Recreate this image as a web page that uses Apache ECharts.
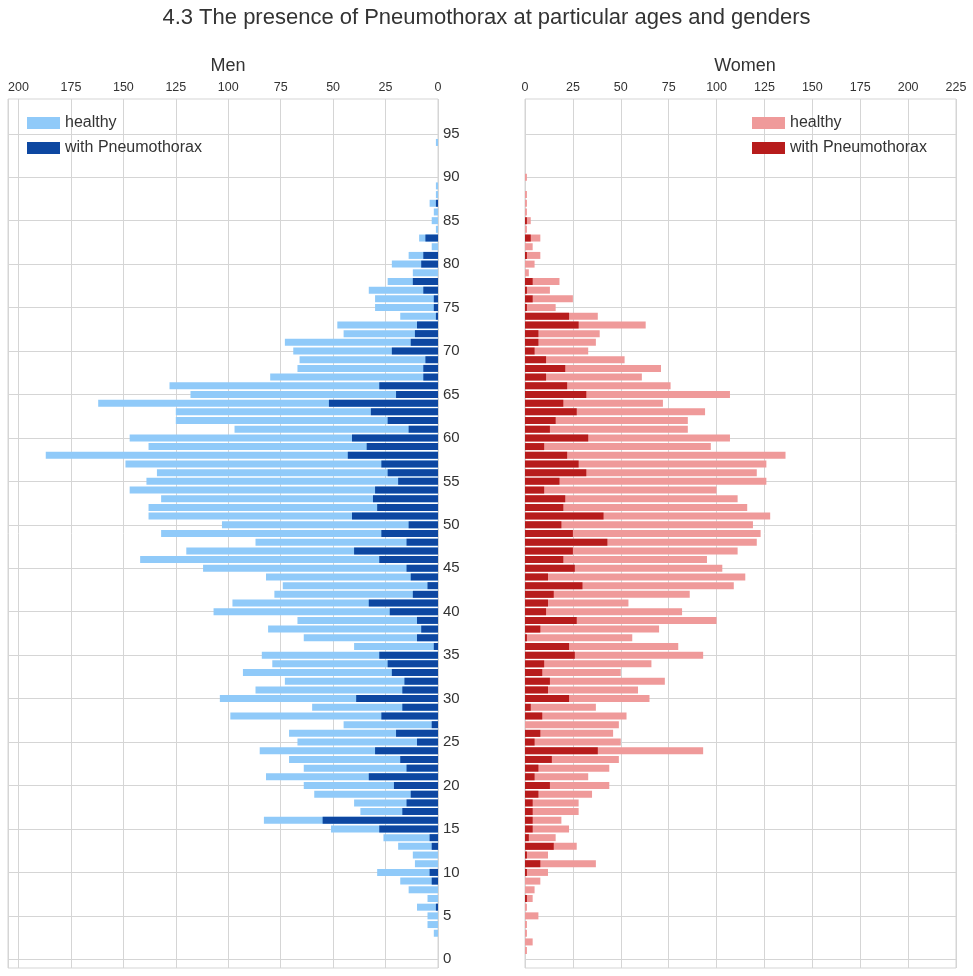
<!DOCTYPE html>
<html>
<head>
<meta charset="utf-8">
<script src="https://cdn.jsdelivr.net/npm/echarts@6/dist/echarts.min.js"></script>
<style>html,body{margin:0;padding:0;background:#fff}#chart{width:973px;height:976px}</style>
</head>
<body>
<div id="chart"></div>
<script>
// ages -1..99, -1 is just a spacer below zero
const ages = [];
for (let a = -1; a <= 99; a++) ages.push(String(a));

// values indexed by age, starting at age 0
const menHealthy = [0,0,0,2,5,5,10,5,14,18,29,11,12,19,26,51,83,37,40,59,64,82,64,71,85,67,71,45,99,60,104,87,73,93,79,84,40,64,81,67,107,98,78,74,82,112,142,120,87,132,103,138,138,132,147,139,134,149,187,138,147,97,125,125,162,118,128,80,67,66,69,73,45,48,18,30,30,33,24,12,22,14,3,9,1,3,2,4,1,1,0,0,0,0,1];
const menPneumo = [0,0,0,0,0,0,1,0,0,3,4,0,0,3,4,28,55,17,15,13,21,33,15,18,30,10,20,3,27,17,39,17,16,22,24,28,2,10,8,10,23,33,12,5,13,15,28,40,15,27,14,41,29,31,30,19,24,27,43,34,41,14,24,32,52,20,28,7,7,6,22,13,11,10,1,2,2,7,12,0,8,7,0,6,0,0,0,1];
const womenHealthy = [0,1,4,1,1,7,1,4,5,8,12,37,12,27,16,23,19,28,28,35,44,33,44,49,93,50,46,49,53,37,65,59,73,50,66,93,80,56,70,100,82,54,86,109,115,103,95,111,121,123,119,128,116,111,100,126,121,126,136,97,107,85,85,94,72,107,76,61,71,52,33,37,39,63,38,16,25,13,18,2,5,8,4,8,1,3,1,1,1,0,1];
const womenPneumo = [0,0,0,0,0,0,0,1,0,0,1,8,1,15,2,4,4,4,4,7,13,5,7,14,38,5,8,0,9,3,23,12,13,9,10,26,23,1,8,27,11,12,15,30,12,26,20,25,43,25,19,41,20,21,10,18,32,28,22,10,33,13,16,27,20,32,22,11,21,11,5,7,7,28,23,1,4,1,4,0,0,1,0,3,0,1];

const pad = arr => [null].concat(arr.map(v => v || null));

const chart = echarts.init(document.getElementById("chart"));
const txt = "#333";
const grid = "#d5d5d5";
const fam = "Liberation Sans, Arial, sans-serif";

const xAxisBase = (gi, max, inverse) => ({
  type: "value", gridIndex: gi, position: "top", min: 0, max: max, interval: 25, inverse: inverse,
  axisLine: { show: false }, axisTick: { show: false },
  axisLabel: { color: txt, fontSize: 12.5, fontFamily: fam, margin: 5,
    formatter: v => (v % 25 === 0 ? v : "") },
  splitLine: { lineStyle: { color: grid } }
});
const yAxisBase = (gi, showLabels) => ({
  type: "category", gridIndex: gi, data: ages, boundaryGap: false, position: "right",
  axisLine: { show: false }, axisTick: { show: false },
  axisLabel: { show: showLabels, color: txt, fontSize: 15, fontFamily: fam, margin: 5,
    interval: (i, v) => Number(v) >= 0 && Number(v) % 5 === 0 && Number(v) <= 95 },
  splitLine: { show: true, interval: (i, v) => Number(v) >= 0 && Number(v) % 5 === 0, lineStyle: { color: grid } }
});

chart.setOption({
  backgroundColor: "#fff",
  animation: false,
  title: [
    { text: "4.3 The presence of Pneumothorax at particular ages and genders", left: "center", top: 2,
      textStyle: { fontSize: 22, fontWeight: "normal", color: txt, fontFamily: fam } },
    { text: "Men", left: 223, top: 52, textAlign: "center",
      textStyle: { fontSize: 18, fontWeight: "normal", color: txt, fontFamily: fam } },
    { text: "Women", left: 740, top: 52, textAlign: "center",
      textStyle: { fontSize: 18, fontWeight: "normal", color: txt, fontFamily: fam } }
  ],
  legend: [
    { data: ["healthy", "with Pneumothorax"], left: 22, top: 110, orient: "vertical", itemWidth: 33, itemHeight: 12,
      itemGap: 9, textStyle: { fontSize: 16, color: txt, fontFamily: fam }, icon: "rect" },
    { data: ["healthy ", "with Pneumothorax "], left: 747, top: 110, orient: "vertical", itemWidth: 33, itemHeight: 12,
      itemGap: 9, textStyle: { fontSize: 16, color: txt, fontFamily: fam }, icon: "rect" }
  ],
  grid: [
    { left: 8, top: 99, width: 430, height: 869, show: true, borderColor: grid, borderWidth: 1 },
    { left: 525, top: 99, width: 431, height: 869, show: true, borderColor: grid, borderWidth: 1 }
  ],
  xAxis: [xAxisBase(0, 205, true), xAxisBase(1, 225, false)],
  yAxis: [yAxisBase(0, true), yAxisBase(1, false)],
  series: [
    { name: "healthy", type: "bar", xAxisIndex: 0, yAxisIndex: 0, data: pad(menHealthy),
      barWidth: 7, barGap: "-100%", itemStyle: { color: "#90CAF9" } },
    { name: "with Pneumothorax", type: "bar", xAxisIndex: 0, yAxisIndex: 0, data: pad(menPneumo),
      barWidth: 7, barGap: "-100%", itemStyle: { color: "#0D47A1" } },
    { name: "healthy ", type: "bar", xAxisIndex: 1, yAxisIndex: 1, data: pad(womenHealthy),
      barWidth: 7, barGap: "-100%", itemStyle: { color: "#EF9A9A" } },
    { name: "with Pneumothorax ", type: "bar", xAxisIndex: 1, yAxisIndex: 1, data: pad(womenPneumo),
      barWidth: 7, barGap: "-100%", itemStyle: { color: "#B71C1C" } }
  ]
});
</script>
</body>
</html>
